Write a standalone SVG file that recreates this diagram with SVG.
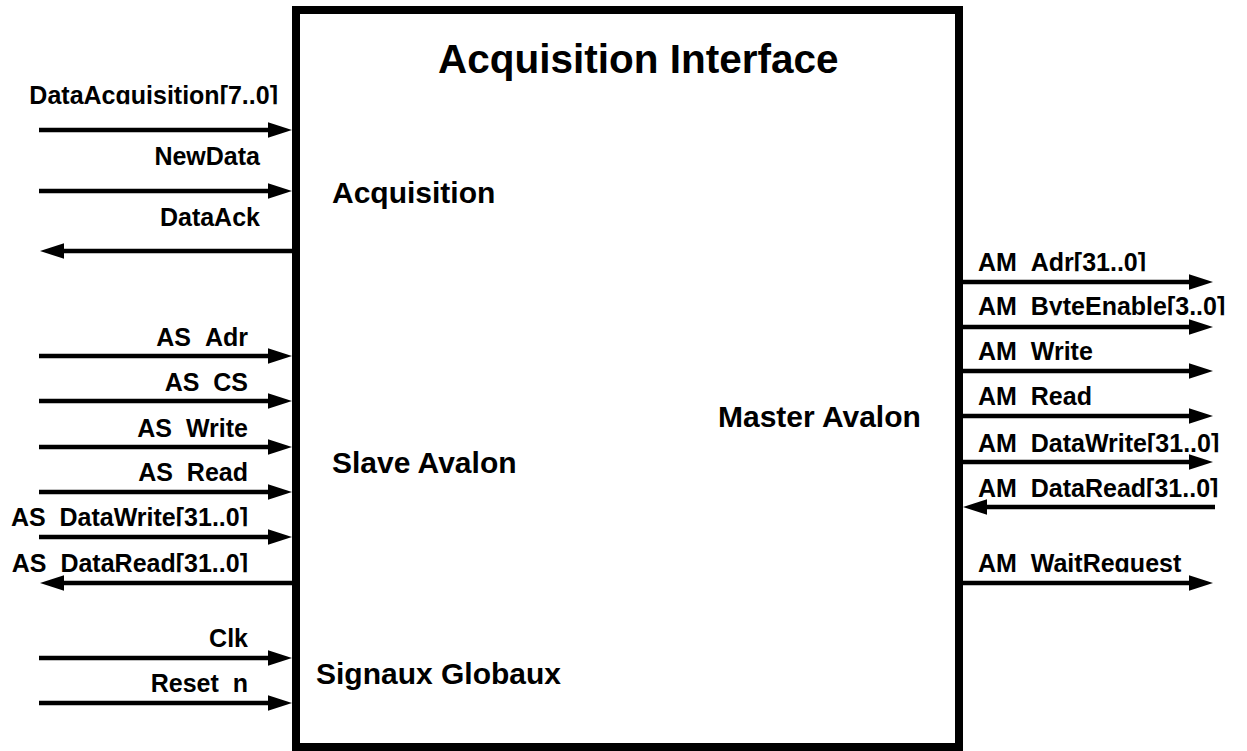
<svg xmlns="http://www.w3.org/2000/svg" width="1247" height="751" viewBox="0 0 1247 751">
  <style>
    .lbl { font-family: "Liberation Sans", Arial, Helvetica, sans-serif; font-weight: bold; font-size: 25px; fill: #000; }
    .sec { font-family: "Liberation Sans", Arial, Helvetica, sans-serif; font-weight: bold; font-size: 30px; fill: #000; }
    .ttl { font-family: "Liberation Sans", Arial, Helvetica, sans-serif; font-weight: bold; font-size: 40.5px; fill: #000; }
    .wire { stroke: #000; stroke-width: 4.5; fill: none; marker-end: url(#ah); }
  </style>
  <defs>
    <marker id="ah" markerUnits="userSpaceOnUse" markerWidth="26" markerHeight="18" viewBox="0 -9 26 18" refX="1" refY="0" orient="auto">
      <path d="M0,-7.8 L24,0 L0,7.8 z" fill="#000"/>
    </marker>
    <clipPath id="cb" clipPathUnits="objectBoundingBox">
      <rect x="-0.1" y="-0.1" width="1.2" height="0.93"/>
    </clipPath>
  </defs>
  <rect width="1247" height="751" fill="#fff"/>

  <g id="acquisition-interface">
    <rect x="296" y="10" width="663" height="737" fill="#fff" stroke="#000" stroke-width="8"/>
    <text class="ttl" x="438" y="73">Acquisition Interface</text>
    <text class="sec" x="332" y="203">Acquisition</text>
    <text class="sec" x="332" y="473">Slave Avalon</text>
    <text class="sec" x="316" y="684">Signaux Globaux</text>
    <text class="sec" x="718" y="427">Master Avalon</text>
  </g>

  <g id="connectors">
    <path class="wire" d="M39,130 H269"/>
    <path class="wire" d="M39,191 H269"/>
    <path class="wire" d="M292,251 H63"/>
    <path class="wire" d="M39,356 H269"/>
    <path class="wire" d="M39,401 H269"/>
    <path class="wire" d="M39,447 H269"/>
    <path class="wire" d="M39,492 H269"/>
    <path class="wire" d="M39,537 H269"/>
    <path class="wire" d="M292,583 H63"/>
    <path class="wire" d="M39,658 H269"/>
    <path class="wire" d="M39,703 H269"/>
    <path class="wire" d="M963,282 H1190"/>
    <path class="wire" d="M963,327 H1190"/>
    <path class="wire" d="M963,371 H1190"/>
    <path class="wire" d="M963,416 H1190"/>
    <path class="wire" d="M963,462 H1190"/>
    <path class="wire" d="M1215,507 H986"/>
    <path class="wire" d="M963,583 H1190"/>
  </g>

  <g id="signal-labels">
    <g text-anchor="end">
      <text class="lbl" clip-path="url(#cb)" x="278" y="104">DataAcquisition[7..0]</text>
      <text class="lbl" clip-path="url(#cb)" x="260" y="165">NewData</text>
      <text class="lbl" clip-path="url(#cb)" x="260" y="226">DataAck</text>
      <text class="lbl" clip-path="url(#cb)" x="248" y="346">AS_Adr</text>
      <text class="lbl" clip-path="url(#cb)" x="248" y="391">AS_CS</text>
      <text class="lbl" clip-path="url(#cb)" x="248" y="437">AS_Write</text>
      <text class="lbl" clip-path="url(#cb)" x="248" y="481">AS_Read</text>
      <text class="lbl" clip-path="url(#cb)" x="248" y="526">AS_DataWrite[31..0]</text>
      <text class="lbl" clip-path="url(#cb)" x="248" y="572">AS_DataRead[31..0]</text>
      <text class="lbl" clip-path="url(#cb)" x="248" y="647">Clk</text>
      <text class="lbl" clip-path="url(#cb)" x="248" y="692">Reset_n</text>
    </g>
    <g>
      <text class="lbl" clip-path="url(#cb)" x="978" y="271">AM_Adr[31..0]</text>
      <text class="lbl" clip-path="url(#cb)" x="978" y="315">AM_ByteEnable[3..0]</text>
      <text class="lbl" clip-path="url(#cb)" x="978" y="360">AM_Write</text>
      <text class="lbl" clip-path="url(#cb)" x="978" y="405">AM_Read</text>
      <text class="lbl" clip-path="url(#cb)" x="978" y="452">AM_DataWrite[31..0]</text>
      <text class="lbl" clip-path="url(#cb)" x="978" y="497">AM_DataRead[31..0]</text>
      <text class="lbl" clip-path="url(#cb)" x="978" y="572">AM_WaitRequest</text>
    </g>
  </g>
</svg>
